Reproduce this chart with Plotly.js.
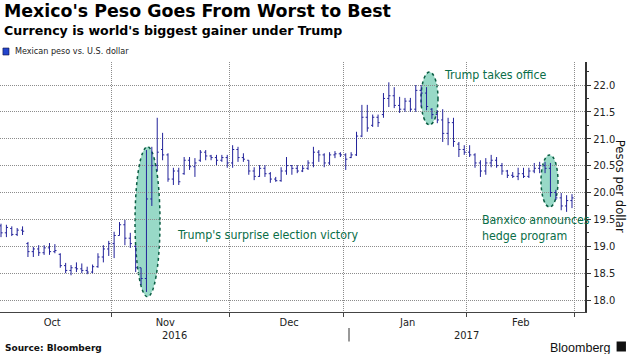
<!DOCTYPE html>
<html>
<head>
<meta charset="utf-8">
<script src="https://cdn.plot.ly/plotly-3.0.1.min.js"></script>
<style>html,body{margin:0;padding:0;background:#fff;}#chart{width:630px;height:354px;}</style>
</head>
<body>
<div id="chart"></div>
<script>
// Trading days, Oct 3 2016 - Feb 28 2017 (USD/MXN daily bars)
const dates = [
 "2016-10-03","2016-10-04","2016-10-05","2016-10-06","2016-10-07","2016-10-10","2016-10-11","2016-10-12","2016-10-13","2016-10-14",
 "2016-10-17","2016-10-18","2016-10-19","2016-10-20","2016-10-21","2016-10-24","2016-10-25","2016-10-26","2016-10-27","2016-10-28","2016-10-31",
 "2016-11-01","2016-11-02","2016-11-03","2016-11-04","2016-11-07","2016-11-08","2016-11-09","2016-11-10","2016-11-11","2016-11-14",
 "2016-11-15","2016-11-16","2016-11-17","2016-11-18","2016-11-21","2016-11-22","2016-11-23","2016-11-24","2016-11-25","2016-11-28","2016-11-29","2016-11-30",
 "2016-12-01","2016-12-02","2016-12-05","2016-12-06","2016-12-07","2016-12-08","2016-12-09","2016-12-12","2016-12-13","2016-12-14",
 "2016-12-15","2016-12-16","2016-12-19","2016-12-20","2016-12-21","2016-12-22","2016-12-23","2016-12-26","2016-12-27","2016-12-28","2016-12-29","2016-12-30",
 "2017-01-02","2017-01-03","2017-01-04","2017-01-05","2017-01-06","2017-01-09","2017-01-10","2017-01-11","2017-01-12","2017-01-13",
 "2017-01-16","2017-01-17","2017-01-18","2017-01-19","2017-01-20","2017-01-23","2017-01-24","2017-01-25","2017-01-26","2017-01-27","2017-01-30","2017-01-31",
 "2017-02-01","2017-02-02","2017-02-03","2017-02-06","2017-02-07","2017-02-08","2017-02-09","2017-02-10","2017-02-13","2017-02-14",
 "2017-02-15","2017-02-16","2017-02-17","2017-02-20","2017-02-21","2017-02-22","2017-02-23","2017-02-24","2017-02-27","2017-02-28"
];
const openVals = [
 19.38,19.25,19.33,19.22,19.30,19.05,18.90,18.95,18.88,18.97,
 18.90,18.85,18.64,18.55,18.60,18.58,18.55,18.52,18.62,18.80,18.95,
 19.05,19.20,19.40,19.15,19.00,18.60,18.40,19.88,20.50,20.80,
 20.70,20.25,20.40,20.35,20.60,20.48,20.60,20.75,20.68,20.65,20.60,20.65,
 20.55,20.80,20.65,20.60,20.40,20.30,20.45,20.35,20.25,20.22,
 20.40,20.50,20.45,20.40,20.45,20.55,20.75,20.70,20.55,20.70,20.72,20.70,
 20.65,20.70,21.05,21.40,21.25,21.40,21.45,21.75,21.80,21.62,
 21.55,21.70,21.55,21.90,21.85,21.55,21.45,21.35,21.10,21.30,20.90,20.80,
 20.75,20.70,20.55,20.40,20.55,20.60,20.50,20.40,20.32,20.30,
 20.35,20.30,20.40,20.45,20.50,20.45,20.00,19.90,19.75,19.85
];
const highVals = [
 19.42,19.40,19.37,19.34,19.37,19.08,18.99,19.02,19.02,19.06,
 19.04,18.87,18.69,18.65,18.70,18.68,18.62,18.66,18.87,19.02,19.10,
 19.27,19.45,19.49,19.25,19.02,18.60,20.79,20.85,21.39,21.11,
 20.73,20.46,20.46,20.66,20.66,20.64,20.79,20.79,20.70,20.70,20.70,20.70,
 20.88,20.85,20.73,20.60,20.47,20.51,20.51,20.38,20.29,20.47,
 20.66,20.51,20.51,20.51,20.60,20.85,20.79,20.73,20.75,20.77,20.75,20.73,
 20.75,21.13,21.63,21.63,21.45,21.45,21.85,22.05,21.96,21.78,
 21.76,21.76,22.00,22.00,21.96,21.57,21.53,21.55,21.39,21.39,20.94,20.88,
 20.88,20.73,20.60,20.64,20.70,20.66,20.55,20.42,20.38,20.46,
 20.46,20.46,20.55,20.57,20.57,20.55,20.05,19.99,19.95,19.97
];
const lowVals = [
 19.17,19.17,19.19,19.19,19.21,18.80,18.80,18.82,18.84,18.84,
 18.87,18.60,18.50,18.46,18.52,18.50,18.48,18.50,18.60,18.70,18.82,
 18.78,19.20,19.02,18.97,18.52,18.28,18.15,19.75,20.40,20.60,
 20.20,20.14,20.14,20.33,20.42,20.29,20.57,20.60,20.60,20.51,20.57,20.46,
 20.46,20.57,20.57,20.33,20.23,20.29,20.29,20.18,20.20,20.20,
 20.33,20.33,20.36,20.38,20.42,20.47,20.57,20.47,20.51,20.64,20.66,20.42,
 20.64,20.68,21.03,21.13,21.22,21.22,21.39,21.59,21.57,21.48,
 21.50,21.50,21.50,21.60,21.53,21.37,21.29,20.94,20.88,20.85,20.66,20.70,
 20.66,20.46,20.29,20.33,20.47,20.46,20.33,20.27,20.27,20.23,
 20.27,20.27,20.36,20.36,20.36,19.92,19.86,19.67,19.64,19.71
];
const closeVals = [
 19.25,19.35,19.22,19.30,19.28,18.90,18.95,18.88,18.97,18.90,
 18.92,18.64,18.55,18.60,18.58,18.55,18.52,18.62,18.80,18.95,19.05,
 19.20,19.40,19.15,19.05,18.60,18.40,19.88,20.50,20.75,20.70,
 20.25,20.40,20.20,20.60,20.48,20.55,20.75,20.68,20.65,20.60,20.65,20.55,
 20.80,20.65,20.62,20.40,20.30,20.45,20.35,20.25,20.22,20.40,
 20.50,20.45,20.40,20.45,20.55,20.75,20.70,20.55,20.70,20.72,20.70,20.62,
 20.70,21.05,21.40,21.20,21.40,21.30,21.75,21.80,21.62,21.55,
 21.70,21.55,21.90,21.85,21.60,21.45,21.35,21.10,21.30,20.95,20.80,20.75,
 20.70,20.55,20.40,20.55,20.60,20.50,20.40,20.32,20.30,20.35,
 20.30,20.40,20.45,20.50,20.45,20.00,19.90,19.75,19.85,19.90
];
const yTicks = [18.0,18.5,19.0,19.5,20.0,20.5,21.0,21.5,22.0];
const monthLabelDates = ['2016-10-17','2016-11-15','2016-12-16','2017-01-17','2017-02-15'];
const monthLabels = ['Oct','Nov','Dec','Jan','Feb'];

const navy = '#22229a';
const green = '#0a6e48';
const gridGray = '#8c8c8c';
const condensed = '"DejaVu Sans Condensed", "DejaVu Sans", sans-serif';

const trace = {
  type: 'ohlc',
  x: dates, open: openVals, high: highVals, low: lowVals, close: closeVals,
  xperiod: 86400000, xperiodalignment: 'middle',
  increasing: {line: {color: navy, width: 1}},
  decreasing: {line: {color: navy, width: 1}},
  tickwidth: 0.3,
  showlegend: false, hoverinfo: 'skip'
};

const ellipseStyle = {type: 'circle', layer: 'below', fillcolor: '#98d9c7', line: {color: '#0b5e44', width: 1.5, dash: 'dot'}};

const layout = {
  width: 630, height: 354,
  margin: {l: 0, r: 45, t: 62, b: 42},
  paper_bgcolor: '#ffffff', plot_bgcolor: '#ffffff',
  showlegend: false,
  xaxis: {
    type: 'date',
    range: ['2016-10-03 07:30', '2017-03-02 22:00'],
    rangebreaks: [{bounds: ['sat', 'mon']}],
    rangeslider: {visible: false},
    tickmode: 'array', tickvals: monthLabelDates, ticktext: monthLabels,
    ticks: '', showgrid: false,
    minor: {tick0: '2016-10-01', dtick: 'M1', ticks: 'outside', ticklen: 4, tickcolor: '#444',
            showgrid: true, gridcolor: gridGray, griddash: '1px,1px', gridwidth: 1},
    showline: true, linecolor: '#444', linewidth: 1,
    tickfont: {family: condensed, size: 11, color: '#222'},
    zeroline: false, fixedrange: true
  },
  yaxis: {
    side: 'right',
    range: [17.777, 22.428],
    tickvals: yTicks, tickformat: '.1f',
    showgrid: true, gridcolor: gridGray, griddash: '1px,1px', gridwidth: 1,
    showline: true, linecolor: '#333', linewidth: 2,
    ticks: 'outside', ticklen: 4, tickcolor: '#333',
    minor: {dtick: 0.25, tick0: 0, ticks: 'outside', ticklen: 2, tickcolor: '#333', showgrid: false},
    tickfont: {family: condensed, size: 11, color: '#222'},
    zeroline: false, fixedrange: true
  },
  shapes: [
    Object.assign({xref: 'paper', yref: 'y', x0: 0.2308, x1: 0.2735, y0: 18.06, y1: 20.85}, ellipseStyle),
    Object.assign({xref: 'paper', yref: 'y', x0: 0.7197, x1: 0.7487, y0: 21.26, y1: 22.24}, ellipseStyle),
    Object.assign({xref: 'paper', yref: 'y', x0: 0.9248, x1: 0.9538, y0: 19.73, y1: 20.70}, ellipseStyle),
    {type: 'rect', xref: 'paper', yref: 'paper', x0: 0.005, x1: 0.0154, y0: 1.028, y1: 1.056, fillcolor: '#2244cc', line: {color: '#101040', width: 0.6}},
    {type: 'line', xref: 'paper', yref: 'paper', x0: 0.5966, x1: 0.5966, y0: -0.064, y1: -0.118, line: {color: '#333', width: 1}},
    {type: 'rect', xref: 'paper', yref: 'paper', x0: 1.054, x1: 1.070, y0: -0.118, y1: -0.158, fillcolor: '#111', line: {width: 0}}
  ],
  annotations: [
    {text: "<b>Mexico's Peso Goes From Worst to Best</b>", xref: 'paper', yref: 'paper', x: 0.0034, y: 1.204, xanchor: 'left', yanchor: 'middle', showarrow: false,
     font: {family: '"DejaVu Sans", sans-serif', size: 17.4, color: '#000'}},
    {text: "<b>Currency is world's biggest gainer under Trump</b>", xref: 'paper', yref: 'paper', x: 0.0034, y: 1.124, xanchor: 'left', yanchor: 'middle', showarrow: false,
     font: {family: '"DejaVu Sans", sans-serif', size: 12.6, color: '#000'}},
    {text: 'Mexican peso vs. U.S. dollar', xref: 'paper', yref: 'paper', x: 0.0222, y: 1.042, xanchor: 'left', yanchor: 'middle', showarrow: false,
     font: {family: condensed, size: 9, color: '#222'}},
    {text: "Trump's surprise election victory", xref: 'paper', yref: 'paper', x: 0.299, y: 0.308, xanchor: 'left', yanchor: 'middle', showarrow: false,
     font: {family: condensed, size: 12.3, color: green}},
    {text: 'Trump takes office', xref: 'paper', yref: 'paper', x: 0.7556, y: 0.948, xanchor: 'left', yanchor: 'middle', showarrow: false,
     font: {family: condensed, size: 12.3, color: green}},
    {text: 'Banxico announces<br>hedge program', xref: 'paper', yref: 'paper', x: 0.8205, y: 0.336, xanchor: 'left', yanchor: 'middle', align: 'left', showarrow: false,
     font: {family: condensed, size: 12.3, color: green}},
    {text: 'Pesos per dollar', xref: 'paper', yref: 'paper', x: 1.062, y: 0.504, xanchor: 'center', yanchor: 'middle', textangle: 90, showarrow: false,
     font: {family: condensed, size: 13, color: '#111'}},
    {text: '2016', xref: 'paper', yref: 'paper', x: 0.299, y: -0.094, xanchor: 'center', yanchor: 'middle', showarrow: false,
     font: {family: condensed, size: 11, color: '#222'}},
    {text: '2017', xref: 'paper', yref: 'paper', x: 0.798, y: -0.094, xanchor: 'center', yanchor: 'middle', showarrow: false,
     font: {family: condensed, size: 11, color: '#222'}},
    {text: '<b>Source: Bloomberg</b>', xref: 'paper', yref: 'paper', x: 0.005, y: -0.142, xanchor: 'left', yanchor: 'middle', showarrow: false,
     font: {family: '"DejaVu Sans", sans-serif', size: 9, color: '#111'}},
    {text: 'Bloomberg', xref: 'paper', yref: 'paper', x: 1.047, y: -0.142, xanchor: 'right', yanchor: 'middle', showarrow: false,
     font: {family: '"Liberation Sans", Arial, sans-serif', size: 12.5, color: '#111'}}
  ]
};

Plotly.newPlot('chart', [trace], layout, {staticPlot: true, displayModeBar: false});
</script>
</body>
</html>
